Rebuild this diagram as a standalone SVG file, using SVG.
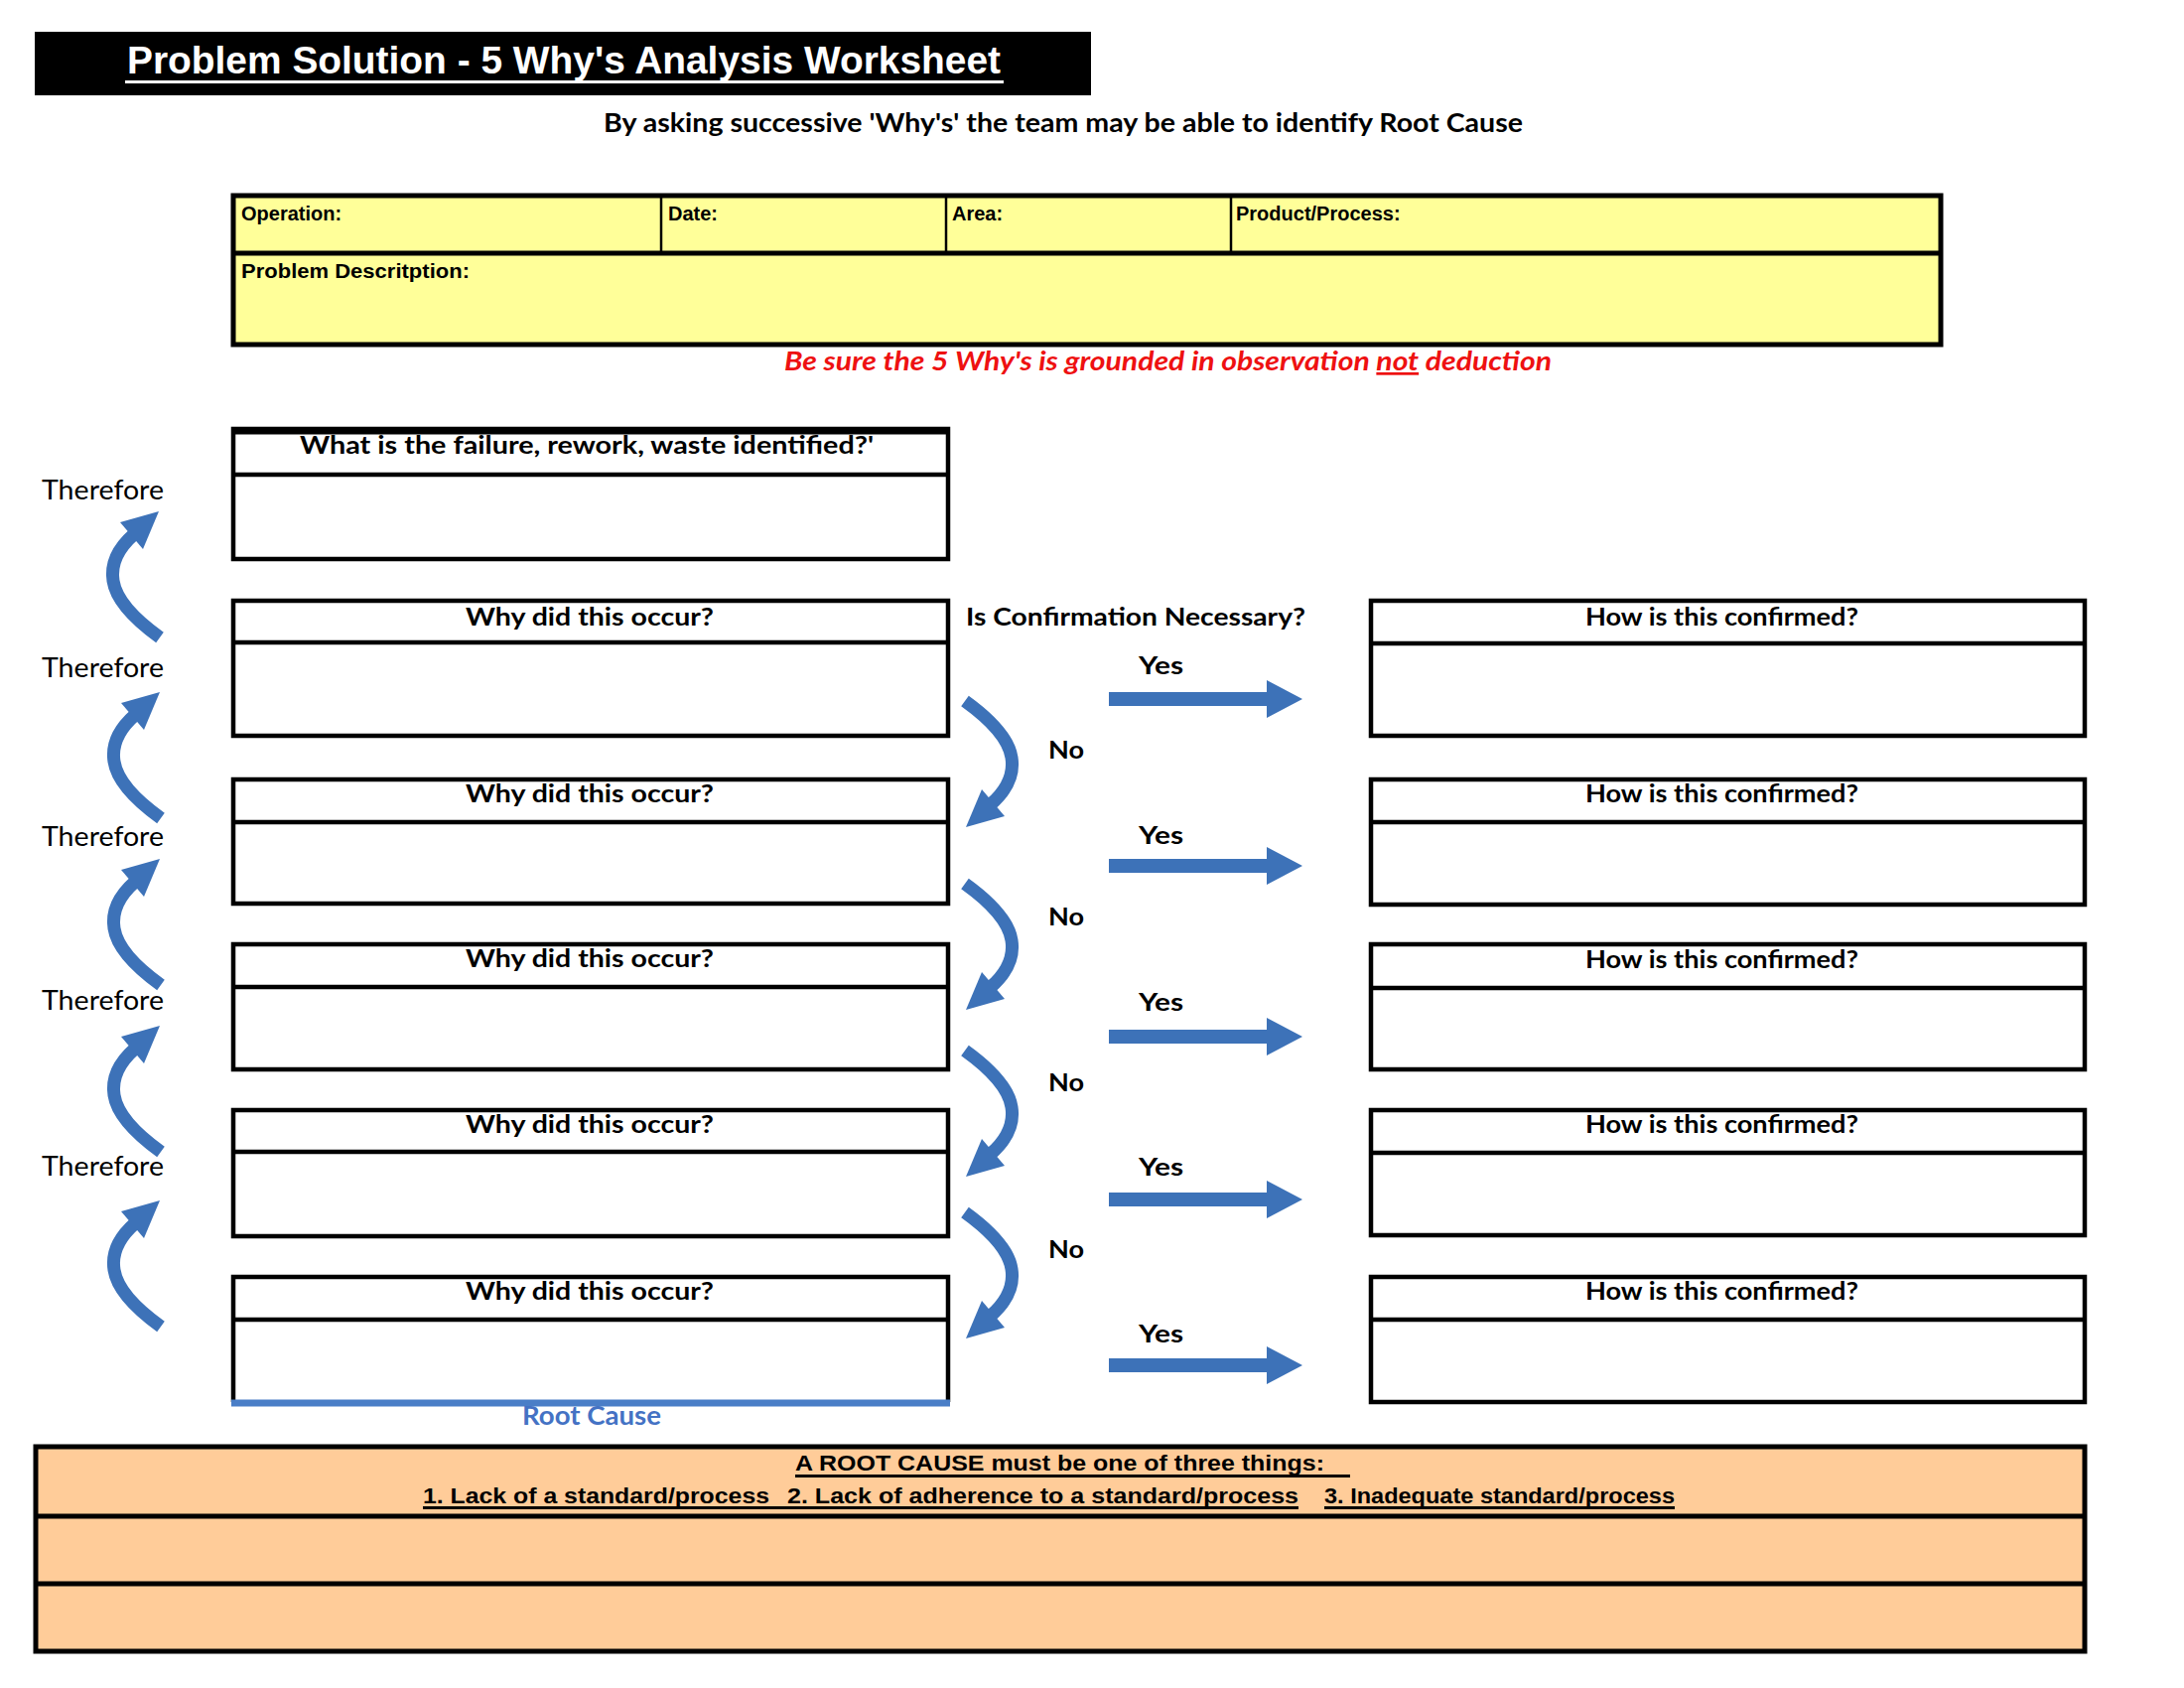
<svg xmlns="http://www.w3.org/2000/svg" xmlns:xlink="http://www.w3.org/1999/xlink" width="2200" height="1700" viewBox="0 0 2200 1700">
<style>
.box{fill:#ffffff;stroke:#000000;stroke-width:4.5}
.sep{stroke:#000000;stroke-width:4.5}
.cal{font-family:Lato,"Open Sans","DejaVu Sans",sans-serif;font-weight:bold;font-size:25px;fill:#000000}
.reg{font-family:Lato,"Open Sans","DejaVu Sans",sans-serif;font-weight:normal;font-size:27px;fill:#000000}
.ari{font-family:"Liberation Sans",Arial,sans-serif;font-weight:bold;fill:#000000}
</style>
<defs>
<g id="curved">
<path d="M -25,23 Q -50,45 -46,70 Q -42,96 1,127" fill="none" stroke="#3D72B8" stroke-width="13"/>
<polygon points="0,0 -39,11 -16,38" fill="#3D72B8"/>
</g>
<polygon id="straight" points="0,-7 159,-7 159,-19 195,0 159,19 159,7 0,7" fill="#3D72B8"/>
</defs>

<g id="title">
<rect x="35" y="32" width="1064" height="64" fill="#000000"/>
<text x="128" y="74" class="ari" font-size="38" style="fill:#ffffff" textLength="880" lengthAdjust="spacingAndGlyphs">Problem Solution - 5 Why's Analysis Worksheet</text>
<rect x="126" y="81" width="885" height="3" fill="#ffffff"/>
</g>

<g id="subtitle">
<text x="608" y="133" class="cal" style="font-size:26px" textLength="926" lengthAdjust="spacingAndGlyphs">By asking successive 'Why's' the team may be able to identify Root Cause</text>
</g>

<g id="header-table">
<rect x="235" y="197" width="1720" height="150" fill="#FFFF99" stroke="#000000" stroke-width="5"/>
<line x1="235" y1="255" x2="1955" y2="255" stroke="#000000" stroke-width="5"/>
<line x1="666" y1="197" x2="666" y2="255" stroke="#000000" stroke-width="2.5"/>
<line x1="953" y1="197" x2="953" y2="255" stroke="#000000" stroke-width="2.5"/>
<line x1="1240" y1="197" x2="1240" y2="255" stroke="#000000" stroke-width="2.5"/>
<text x="243" y="222" class="ari" font-size="20">Operation:</text>
<text x="673" y="222" class="ari" font-size="20">Date:</text>
<text x="959" y="222" class="ari" font-size="20">Area:</text>
<text x="1245" y="222" class="ari" font-size="20">Product/Process:</text>
<text x="243" y="280" class="ari" font-size="20" textLength="230" lengthAdjust="spacingAndGlyphs">Problem Descritption:</text>
</g>

<g id="warning">
<text x="790" y="373" class="cal" style="font-size:27px;font-style:italic;fill:#EE1111" textLength="773" lengthAdjust="spacingAndGlyphs">Be sure the 5 Why's is grounded in observation <tspan text-decoration="underline">not</tspan> deduction</text>
</g>

<g id="failure-box">
<rect x="235" y="432" width="720" height="131" class="box"/>
<line x1="233" y1="434" x2="957" y2="434" stroke="#000" stroke-width="7"/>
<line x1="235" y1="478" x2="955" y2="478" class="sep"/>
<text x="302" y="457" class="cal" textLength="578" lengthAdjust="spacingAndGlyphs">What is the failure, rework, waste identified?'</text>
</g>

<g id="why-1">
<rect x="235" y="605" width="720" height="136" class="box"/>
<line x1="235" y1="647" x2="955" y2="647" class="sep"/>
<text x="469" y="630" class="cal" textLength="250" lengthAdjust="spacingAndGlyphs">Why did this occur?</text>
</g>
<g id="why-2">
<rect x="235" y="785" width="720" height="125" class="box"/>
<line x1="235" y1="828" x2="955" y2="828" class="sep"/>
<text x="469" y="808" class="cal" textLength="250" lengthAdjust="spacingAndGlyphs">Why did this occur?</text>
</g>
<g id="why-3">
<rect x="235" y="951" width="720" height="126" class="box"/>
<line x1="235" y1="994" x2="955" y2="994" class="sep"/>
<text x="469" y="974" class="cal" textLength="250" lengthAdjust="spacingAndGlyphs">Why did this occur?</text>
</g>
<g id="why-4">
<rect x="235" y="1118" width="720" height="127" class="box"/>
<line x1="235" y1="1160" x2="955" y2="1160" class="sep"/>
<text x="469" y="1141" class="cal" textLength="250" lengthAdjust="spacingAndGlyphs">Why did this occur?</text>
</g>
<g id="why-5">
<path d="M 235,1412 L 235,1286 L 955,1286 L 955,1412" fill="#ffffff" stroke="#000000" stroke-width="4.5"/>
<line x1="235" y1="1329" x2="955" y2="1329" class="sep"/>
<line x1="233" y1="1413" x2="957" y2="1413" stroke="#4A7EC7" stroke-width="7"/>
<text x="469" y="1309" class="cal" textLength="250" lengthAdjust="spacingAndGlyphs">Why did this occur?</text>
<text x="526" y="1435" class="cal" style="font-size:26px;fill:#4472C4" textLength="140" lengthAdjust="spacingAndGlyphs">Root Cause</text>
</g>

<g id="confirm-1">
<rect x="1381" y="605" width="719" height="136" class="box"/>
<line x1="1381" y1="648" x2="2100" y2="648" class="sep"/>
<text x="1597" y="630" class="cal" textLength="275" lengthAdjust="spacingAndGlyphs">How is this confirmed?</text>
</g>
<g id="confirm-2">
<rect x="1381" y="785" width="719" height="126" class="box"/>
<line x1="1381" y1="828" x2="2100" y2="828" class="sep"/>
<text x="1597" y="808" class="cal" textLength="275" lengthAdjust="spacingAndGlyphs">How is this confirmed?</text>
</g>
<g id="confirm-3">
<rect x="1381" y="951" width="719" height="126" class="box"/>
<line x1="1381" y1="995" x2="2100" y2="995" class="sep"/>
<text x="1597" y="975" class="cal" textLength="275" lengthAdjust="spacingAndGlyphs">How is this confirmed?</text>
</g>
<g id="confirm-4">
<rect x="1381" y="1118" width="719" height="126" class="box"/>
<line x1="1381" y1="1161" x2="2100" y2="1161" class="sep"/>
<text x="1597" y="1141" class="cal" textLength="275" lengthAdjust="spacingAndGlyphs">How is this confirmed?</text>
</g>
<g id="confirm-5">
<rect x="1381" y="1286" width="719" height="126" class="box"/>
<line x1="1381" y1="1329" x2="2100" y2="1329" class="sep"/>
<text x="1597" y="1309" class="cal" textLength="275" lengthAdjust="spacingAndGlyphs">How is this confirmed?</text>
</g>

<g id="labels">
<text x="973" y="630" class="cal" textLength="342" lengthAdjust="spacingAndGlyphs">Is Confirmation Necessary?</text>
<text x="1147" y="679" class="cal" textLength="45" lengthAdjust="spacingAndGlyphs">Yes</text>
<text x="1147" y="850" class="cal" textLength="45" lengthAdjust="spacingAndGlyphs">Yes</text>
<text x="1147" y="1018" class="cal" textLength="45" lengthAdjust="spacingAndGlyphs">Yes</text>
<text x="1147" y="1184" class="cal" textLength="45" lengthAdjust="spacingAndGlyphs">Yes</text>
<text x="1147" y="1352" class="cal" textLength="45" lengthAdjust="spacingAndGlyphs">Yes</text>
<text x="1056" y="764" class="cal" textLength="36" lengthAdjust="spacingAndGlyphs">No</text>
<text x="1056" y="932" class="cal" textLength="36" lengthAdjust="spacingAndGlyphs">No</text>
<text x="1056" y="1099" class="cal" textLength="36" lengthAdjust="spacingAndGlyphs">No</text>
<text x="1056" y="1267" class="cal" textLength="36" lengthAdjust="spacingAndGlyphs">No</text>
<text x="42" y="503" class="reg" textLength="123" lengthAdjust="spacingAndGlyphs">Therefore</text>
<text x="42" y="682" class="reg" textLength="123" lengthAdjust="spacingAndGlyphs">Therefore</text>
<text x="42" y="852" class="reg" textLength="123" lengthAdjust="spacingAndGlyphs">Therefore</text>
<text x="42" y="1017" class="reg" textLength="123" lengthAdjust="spacingAndGlyphs">Therefore</text>
<text x="42" y="1184" class="reg" textLength="123" lengthAdjust="spacingAndGlyphs">Therefore</text>
</g>

<g id="connectors">
<use xlink:href="#curved" href="#curved" transform="translate(160,515)"/>
<use xlink:href="#curved" href="#curved" transform="translate(161,697)"/>
<use xlink:href="#curved" href="#curved" transform="translate(161,865)"/>
<use xlink:href="#curved" href="#curved" transform="translate(161,1033)"/>
<use xlink:href="#curved" href="#curved" transform="translate(161,1209)"/>
<use xlink:href="#curved" href="#curved" transform="translate(973,833) rotate(180)"/>
<use xlink:href="#curved" href="#curved" transform="translate(973,1017) rotate(180)"/>
<use xlink:href="#curved" href="#curved" transform="translate(973,1185) rotate(180)"/>
<use xlink:href="#curved" href="#curved" transform="translate(973,1348) rotate(180)"/>
<use xlink:href="#straight" href="#straight" transform="translate(1117,704)"/>
<use xlink:href="#straight" href="#straight" transform="translate(1117,872)"/>
<use xlink:href="#straight" href="#straight" transform="translate(1117,1044)"/>
<use xlink:href="#straight" href="#straight" transform="translate(1117,1208)"/>
<use xlink:href="#straight" href="#straight" transform="translate(1117,1375)"/>
</g>

<g id="root-cause-table">
<rect x="36" y="1457" width="2064" height="206" fill="#FFCC99" stroke="#000000" stroke-width="5"/>
<line x1="36" y1="1527" x2="2100" y2="1527" stroke="#000000" stroke-width="5"/>
<line x1="36" y1="1595" x2="2100" y2="1595" stroke="#000000" stroke-width="5"/>
<text x="801" y="1481" class="ari" font-size="22" textLength="533" lengthAdjust="spacingAndGlyphs">A ROOT CAUSE must be one of three things:</text>
<rect x="801" y="1485" width="559" height="3" fill="#000000"/>
<text x="426" y="1514" class="ari" font-size="22" textLength="349" lengthAdjust="spacingAndGlyphs">1. Lack of a standard/process</text>
<text x="793" y="1514" class="ari" font-size="22" textLength="515" lengthAdjust="spacingAndGlyphs">2. Lack of adherence to a standard/process</text>
<text x="1334" y="1514" class="ari" font-size="22" textLength="353" lengthAdjust="spacingAndGlyphs">3. Inadequate standard/process</text>
<rect x="426" y="1517" width="882" height="3" fill="#000000"/>
<rect x="1334" y="1517" width="353" height="3" fill="#000000"/>
</g>
</svg>
